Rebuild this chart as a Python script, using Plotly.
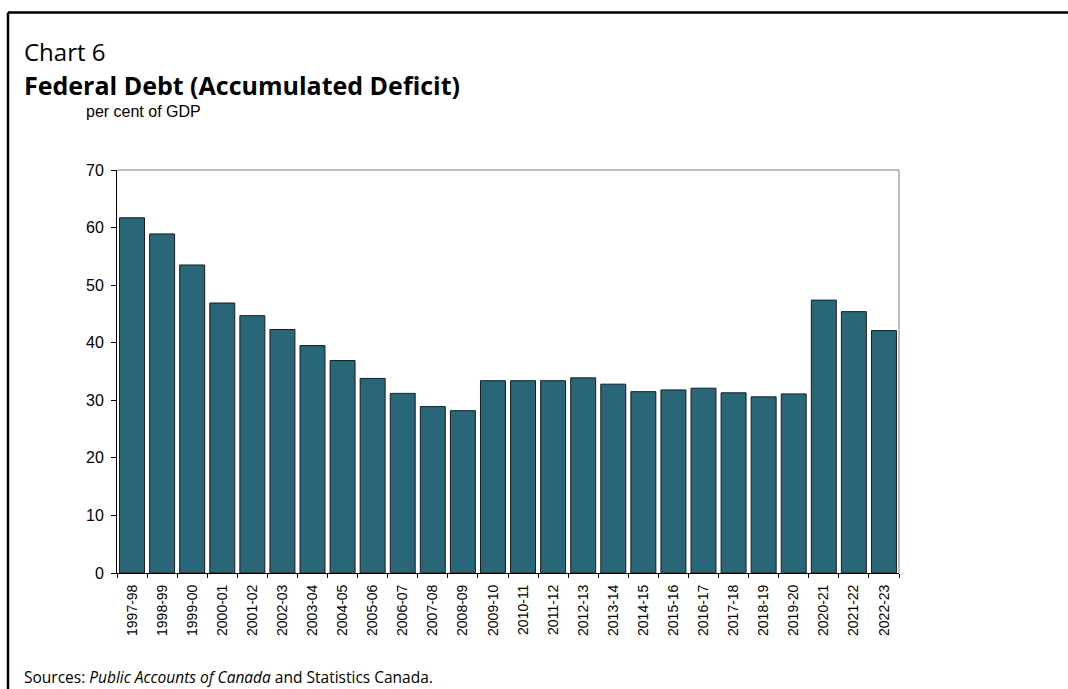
import plotly.graph_objects as go

# Fiscal years and federal debt as per cent of GDP
years = ["1997-98", "1998-99", "1999-00", "2000-01", "2001-02", "2002-03", "2003-04",
         "2004-05", "2005-06", "2006-07", "2007-08", "2008-09", "2009-10", "2010-11",
         "2011-12", "2012-13", "2013-14", "2014-15", "2015-16", "2016-17", "2017-18",
         "2018-19", "2019-20", "2020-21", "2021-22", "2022-23"]
debt_pct_gdp = [61.7, 58.9, 53.5, 46.9, 44.7, 42.3, 39.5, 36.9, 33.8, 31.2, 28.9, 28.2,
                33.4, 33.4, 33.4, 33.9, 32.8, 31.5, 31.8, 32.1, 31.3, 30.6, 31.1,
                47.4, 45.4, 42.1]
y_ticks = [0, 10, 20, 30, 40, 50, 60, 70]

W, H = 1068, 689
# plot area in pixels
px_left, px_right, px_top, px_bottom = 117, 899, 170, 573

def fx(px):
    return px / W

def fy(py):
    return (H - py) / H

BAR = "#286678"
SEGOE = "Open Sans, Noto Sans, sans-serif"
ARIAL = "Liberation Sans, Arial, sans-serif"

fig = go.Figure(go.Bar(
    x=years, y=debt_pct_gdp,
    marker=dict(color=BAR, line=dict(color="#1c1c1c", width=1)),
    width=0.83,
))

fig.update_layout(
    width=W, height=H,
    margin=dict(l=0, r=0, t=0, b=0),
    paper_bgcolor="white", plot_bgcolor="white",
    showlegend=False,
    xaxis=dict(
        domain=[fx(px_left), fx(px_right)],
        type="category", automargin=False,
        showgrid=False, zeroline=False,
        showline=True, linecolor="black", linewidth=1,
        ticks="outside", ticklen=4, tickcolor="black", tickwidth=1,
        tickson="boundaries",
        tickangle=-90,
        tickfont=dict(family=ARIAL, size=14, color="black"),
        ticklabelstandoff=5,
    ),
    yaxis=dict(
        domain=[fy(px_bottom), fy(px_top)],
        range=[0, 70], automargin=False,
        tickvals=y_ticks,
        showgrid=False, zeroline=False,
        showline=True, linecolor="black", linewidth=1,
        ticks="outside", ticklen=5, tickcolor="black", tickwidth=1,
        tickfont=dict(family=ARIAL, size=16, color="black"),
        ticklabelstandoff=4,
    ),
    shapes=[
        # top and right edges of the plot frame
        dict(type="line", xref="paper", yref="paper",
             x0=fx(px_left), x1=fx(px_right), y0=fy(px_top), y1=fy(px_top),
             line=dict(color="#7f7f7f", width=1)),
        dict(type="line", xref="paper", yref="paper",
             x0=fx(px_right), x1=fx(px_right), y0=fy(px_top), y1=fy(px_bottom),
             line=dict(color="#7f7f7f", width=1)),
        # outer panel border
        dict(type="line", xref="paper", yref="paper",
             x0=fx(8), x1=1.05, y0=fy(12.5), y1=fy(12.5),
             line=dict(color="black", width=2.5)),
        dict(type="line", xref="paper", yref="paper",
             x0=fx(8), x1=fx(8), y0=fy(12.5), y1=-0.05,
             line=dict(color="black", width=2.5)),
    ],
    annotations=[
        dict(text="Chart 6", x=fx(22), y=fy(51.5), xref="paper", yref="paper",
             xanchor="left", yanchor="middle", showarrow=False,
             font=dict(family=SEGOE, size=24, color="black")),
        dict(text="<b>Federal Debt (Accumulated Deficit)</b>", x=fx(22), y=fy(85),
             xref="paper", yref="paper", xanchor="left", yanchor="middle", showarrow=False,
             font=dict(family=SEGOE, size=25, color="black")),
        dict(text="per cent of GDP", x=fx(84), y=fy(111.5), xref="paper", yref="paper",
             xanchor="left", yanchor="middle", showarrow=False,
             font=dict(family=ARIAL, size=16, color="black")),
        dict(text="Sources: <i>Public Accounts of Canada</i> and Statistics Canada.",
             x=fx(22), y=fy(677), xref="paper", yref="paper",
             xanchor="left", yanchor="middle", showarrow=False,
             font=dict(family=SEGOE, size=15.5, color="black")),
    ],
)

fig.write_html("out.html")
